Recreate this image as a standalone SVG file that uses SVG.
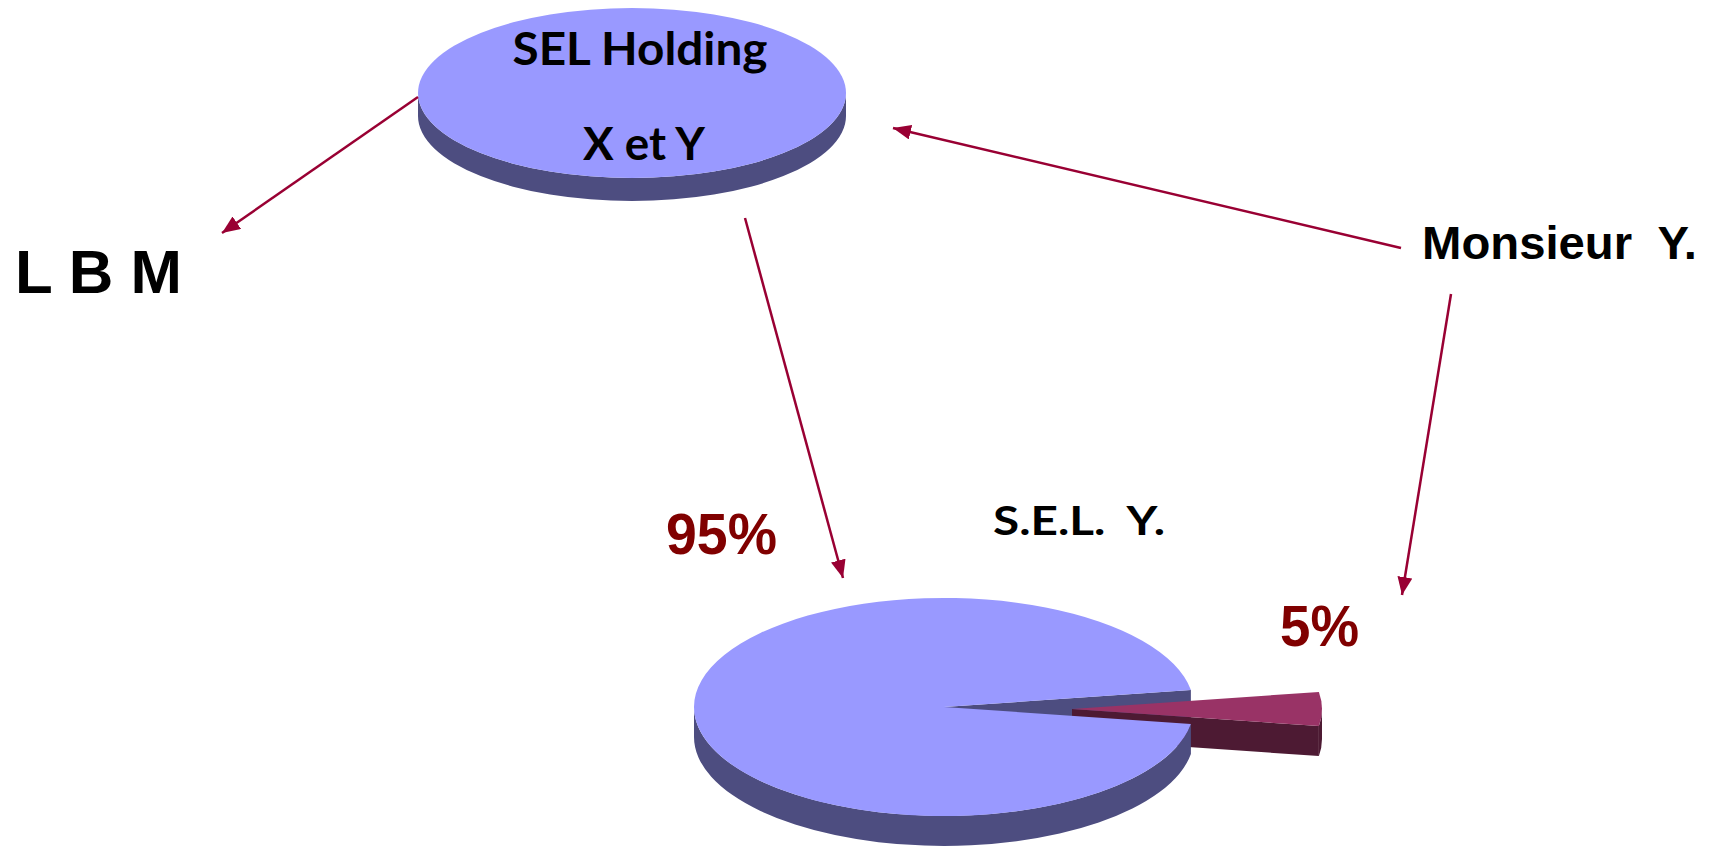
<svg xmlns="http://www.w3.org/2000/svg" width="1711" height="848" viewBox="0 0 1711 848">
<style>
.blueTop{fill:#9999FF}
.blueSide{fill:#4D4D80}
.redTop{fill:#993366}
.redSide{fill:#4D1A33}
.cal{font-family:Lato,"Open Sans","Liberation Sans",sans-serif;font-weight:bold;fill:#000;white-space:pre}
.ari{font-family:"Liberation Sans",Arial,sans-serif;font-weight:bold;fill:#000;white-space:pre}
.pct{font-family:"Liberation Sans",Arial,sans-serif;font-weight:bold;fill:#800000}
.conn{stroke:#990033;stroke-width:2.5;fill:none}
</style>
<defs>
<marker id="ah" markerUnits="userSpaceOnUse" markerWidth="20" markerHeight="16" refX="18" refY="7.5" orient="auto">
<path d="M0,0 L18,7.5 L0,15 z" fill="#990033"/>
</marker>
</defs>
<rect width="1711" height="848" fill="#fff"/>

<g id="sel-holding">
<path class="blueSide" d="M418,93 L418,116 A214,85 0 0 0 846,116 L846,93 A214,85 0 0 1 418,93 Z"/>
<ellipse class="blueTop" cx="632" cy="93" rx="214" ry="85"/>
<text class="cal" x="640" y="65" font-size="45" text-anchor="middle" textLength="255" lengthAdjust="spacingAndGlyphs">SEL Holding</text>
<text class="cal" x="644" y="160" font-size="45" text-anchor="middle" textLength="122" lengthAdjust="spacingAndGlyphs">X et Y</text>
</g>

<g id="lbm">
<text class="ari" x="15" y="293" font-size="62" textLength="167" lengthAdjust="spacingAndGlyphs">L B M</text>
</g>

<g id="monsieur-y">
<text class="ari" x="1422" y="259" font-size="47" textLength="275" lengthAdjust="spacingAndGlyphs" xml:space="preserve">Monsieur  Y.</text>
</g>

<g id="sel-y">
<text class="cal" x="993" y="535" font-size="41" textLength="172" lengthAdjust="spacingAndGlyphs" xml:space="preserve">S.E.L.  Y.</text>
<path class="blueSide" d="M944,707 L1190.9,689.95 L1190.9,719.95 L944,737 Z"/>
<path class="redSide" d="M1072,709 L1318.9,726.05 L1318.9,756.05 L1072,739 Z"/>
<path class="redSide" d="M1322,709 L1322,739 A250,109 0 0 1 1318.9,756.05 L1318.9,726.05 A250,109 0 0 0 1322,709 Z"/>
<path class="redTop" d="M1072,709 L1318.9,691.95 A250,109 0 0 1 1318.9,726.05 Z"/>
<path class="blueSide" d="M694,707 L694,737 A250,109 0 0 0 1190.9,754.05 L1190.9,724.05 A250,109 0 0 1 694,707 Z"/>
<path class="blueTop" d="M944,707 L1190.9,689.95 A250,109 0 1 0 1190.9,724.05 Z"/>
<text class="pct" x="666" y="554" font-size="57" textLength="111" lengthAdjust="spacingAndGlyphs">95%</text>
<text class="pct" x="1280" y="646" font-size="57" textLength="79" lengthAdjust="spacingAndGlyphs">5%</text>
</g>

<g id="connectors">
<line class="conn" x1="418" y1="97" x2="222" y2="233" marker-end="url(#ah)"/>
<line class="conn" x1="1401" y1="248" x2="893" y2="128" marker-end="url(#ah)"/>
<line class="conn" x1="745" y1="218" x2="843" y2="578" marker-end="url(#ah)"/>
<line class="conn" x1="1451" y1="294" x2="1402" y2="595" marker-end="url(#ah)"/>
</g>
</svg>
